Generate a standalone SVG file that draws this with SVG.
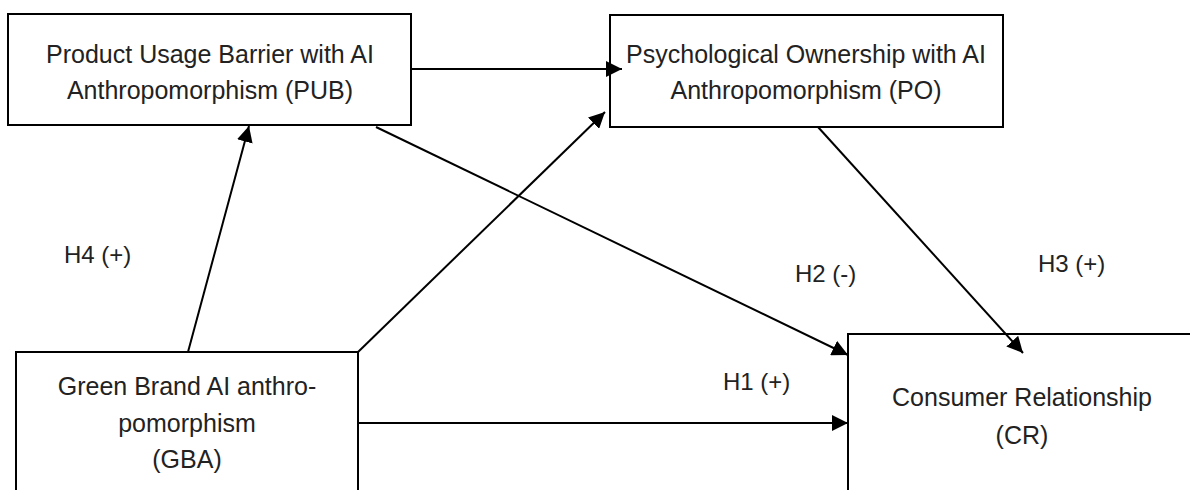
<svg xmlns="http://www.w3.org/2000/svg" width="1190" height="490" viewBox="0 0 1190 490">
<style>
.box{fill:#fff;stroke:#000;stroke-width:2}
.t{font-family:"Liberation Sans",Arial,sans-serif;font-size:25px;fill:#222;text-anchor:middle}
.lbl{font-family:"Liberation Sans",Arial,sans-serif;font-size:24px;fill:#222}
.c{stroke:#000;stroke-width:2;fill:none;marker-end:url(#ah)}
</style>
<defs>
<marker id="ah" viewBox="0 0 10 10" refX="10" refY="5" markerWidth="8" markerHeight="8" markerUnits="strokeWidth" orient="auto">
<path d="M0,0 L10,5 L0,10 z" fill="#000"/>
</marker>
</defs>
<rect width="1190" height="490" fill="#fff"/>
<g id="PUB">
<rect class="box" x="8" y="14" width="403" height="111"/>
<text class="t" x="210" y="63">Product Usage Barrier with AI</text>
<text class="t" x="210" y="99">Anthropomorphism (PUB)</text>
</g>
<g id="PO">
<rect class="box" x="610" y="15" width="393" height="112"/>
<text class="t" x="806" y="63">Psychological Ownership with AI</text>
<text class="t" x="806" y="99">Anthropomorphism (PO)</text>
</g>
<g id="GBA">
<rect class="box" x="16" y="352" width="342" height="150"/>
<text class="t" x="187" y="395">Green Brand AI anthro-</text>
<text class="t" x="187" y="432">pomorphism</text>
<text class="t" x="187" y="468">(GBA)</text>
</g>
<g id="CR">
<rect class="box" x="848" y="334" width="360" height="170"/>
<text class="t" x="1022" y="406">Consumer Relationship</text>
<text class="t" x="1022" y="444">(CR)</text>
</g>
<g id="connectors">
<line class="c" x1="411" y1="69" x2="622" y2="69"/>
<line class="c" x1="188" y1="352" x2="249" y2="126"/>
<line class="c" x1="357" y1="353" x2="605" y2="112"/>
<line class="c" x1="376" y1="127" x2="848" y2="355"/>
<line class="c" x1="818" y1="127" x2="1023" y2="353"/>
<line class="c" x1="358" y1="423" x2="848" y2="423"/>
</g>
<g id="labels">
<text class="lbl" x="64" y="263">H4 (+)</text>
<text class="lbl" x="795" y="282">H2 (-)</text>
<text class="lbl" x="1038" y="272">H3 (+)</text>
<text class="lbl" x="723" y="390">H1 (+)</text>
</g>
</svg>
